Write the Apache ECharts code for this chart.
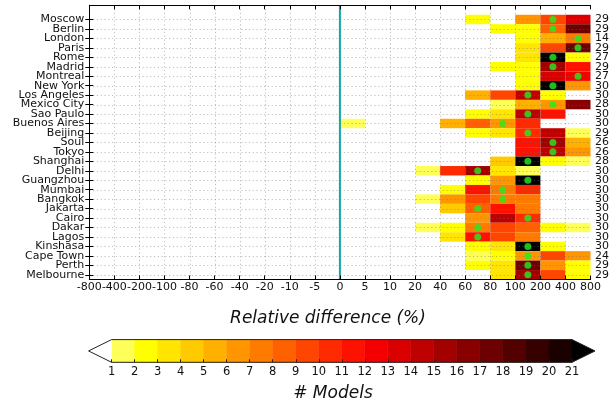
<!DOCTYPE html>
<html><head><meta charset="utf-8">
<script src="https://cdn.jsdelivr.net/npm/echarts@6/dist/echarts.min.js"></script>
<style>html,body{margin:0;padding:0;background:#fff}#c{width:612px;height:403px}</style>
</head><body><div id="c"></div>
<script>
const cities = ['Moscow','Berlin','London','Paris','Rome','Madrid','Montreal','New York','Los Angeles','Mexico City','Sao Paulo','Buenos Aires','Beijing','Soul','Tokyo','Shanghai','Delhi','Guangzhou','Mumbai','Bangkok','Jakarta','Cairo','Dakar','Lagos','Kinshasa','Cape Town','Perth','Melbourne'];
const xTickLabels = ['-800','-400','-200','-100','-80','-60','-40','-20','-10','-5','0','5','10','20','40','60','80','100','200','400','800'];
const modelTotals = [29,29,14,29,27,29,27,30,30,28,30,30,29,26,26,28,30,30,30,30,30,30,30,30,30,24,29,29];
// number of models per bin (20 bins between consecutive tick labels)
const cellCounts = [
 [0,0,0,0,0,0,0,0,0,0, 0,0,0,0,0,2,0,6,9,13],
 [0,0,0,0,0,0,0,0,0,0, 0,0,0,0,0,0,2,2,8,17],
 [0,0,0,0,0,0,0,0,0,0, 0,0,0,0,0,0,0,2,5,7],
 [0,0,0,0,0,0,0,0,0,0, 0,0,0,0,0,0,0,3,9,17],
 [0,0,0,0,0,0,0,0,0,0, 0,0,0,0,0,0,0,3,22,2],
 [0,0,0,0,0,0,0,0,0,0, 0,0,0,0,0,0,2,2,15,11],
 [0,0,0,0,0,0,0,0,0,0, 0,0,0,0,0,0,0,2,13,12],
 [0,0,0,0,0,0,0,0,0,0, 0,0,0,0,0,0,0,2,22,6],
 [0,0,0,0,0,0,0,0,0,0, 0,0,0,0,0,5,9,14,2,0],
 [0,0,0,0,0,0,0,0,0,0, 0,0,0,0,0,0,1,5,6,16],
 [0,0,0,0,0,0,0,0,0,0, 0,0,0,0,0,2,3,14,11,0],
 [0,0,0,0,0,0,0,0,0,0, 1,0,0,0,5,8,6,10,0,0],
 [0,0,0,0,0,0,0,0,0,0, 0,0,0,0,0,2,3,10,14,1],
 [0,0,0,0,0,0,0,0,0,0, 0,0,0,0,0,0,0,11,15,5],
 [0,0,0,0,0,0,0,0,0,0, 0,0,0,0,0,0,0,11,14,6],
 [0,0,0,0,0,0,0,0,0,0, 0,0,0,0,0,0,4,22,2,1],
 [0,0,0,0,0,0,0,0,0,0, 0,0,0,1,10,15,3,1,0,0],
 [0,0,0,0,0,0,0,0,0,0, 0,0,0,0,0,2,6,22,0,0],
 [0,0,0,0,0,0,0,0,0,0, 0,0,0,0,2,11,7,10,0,0],
 [0,0,0,0,0,0,0,0,0,0, 0,0,0,1,6,9,7,7,0,0],
 [0,0,0,0,0,0,0,0,0,0, 0,0,0,0,4,8,11,7,0,0],
 [0,0,0,0,0,0,0,0,0,0, 0,0,0,0,0,6,14,10,0,0],
 [0,0,0,0,0,0,0,0,0,0, 0,0,0,1,2,7,9,8,2,1],
 [0,0,0,0,0,0,0,0,0,0, 0,0,0,0,3,11,9,7,0,0],
 [0,0,0,0,0,0,0,0,0,0, 0,0,0,0,0,2,3,22,2,0],
 [0,0,0,0,0,0,0,0,0,0, 0,0,0,0,0,1,2,6,9,6],
 [0,0,0,0,0,0,0,0,0,0, 0,0,0,0,0,2,3,17,6,2],
 [0,0,0,0,0,0,0,0,0,0, 0,0,0,0,0,0,3,15,9,2]
];
// bin holding the ensemble median (green dot)
const medianBins = [18,18,19,19,18,18,19,18,17,18,17,16,17,18,18,17,15,17,16,16,15,17,15,15,17,17,17,17];
const cbLevels = [1,2,3,4,5,6,7,8,9,10,11,12,13,14,15,16,17,18,19,20,21];
const levelColors = ['#ffff5a','#ffff00','#ffe500','#ffcb00','#ffb000','#ff9600','#ff7b00','#ff6000','#ff4600','#ff2b00','#ff1100','#f50000','#da0000','#bf0000','#a30000','#880000','#6d0000','#520000','#370000','#1b0000'];

function colorOf(v){
  if (v < cbLevels[0]) return '#ffffff';
  if (v >= cbLevels[cbLevels.length-1]) return '#000000';
  for (let i = 0; i < cbLevels.length-1; i++) if (v >= cbLevels[i] && v < cbLevels[i+1]) return levelColors[i];
  return '#000';
}

const FONT = 'DejaVu Sans';
const cellData = [];
cellCounts.forEach((row, r) => row.forEach((c, b) => { if (c > 0) cellData.push([b, r+1, c]); }));
const dotData = medianBins.map((b, r) => [b + 0.5, r + 1]);
const zeroIdx = xTickLabels.indexOf('0');

const chart = echarts.init(document.getElementById('c'), null, {renderer:'canvas'});
const tickStyle = {show:true, inside:true, length:4, lineStyle:{color:'#000', width:1}};
const lineStyle = {show:true, lineStyle:{color:'#000', width:1}};
chart.setOption({
  animation:false,
  backgroundColor:'#fff',
  grid:[
    {left:89.3, right:16.5, top:5.3, bottom:123.5},
    {left:111.6, right:40, top:339.6, height:22.7}
  ],
  xAxis:[
    {gridIndex:0, type:'value', min:0, max:xTickLabels.length-1, interval:1, z:10,
     axisLine:lineStyle, axisTick:tickStyle, splitLine:{show:false},
     axisLabel:{margin:2, fontFamily:FONT, fontSize:11, color:'#111', showMinLabel:true, showMaxLabel:true, hideOverlap:false,
       formatter:v => xTickLabels[Math.round(v)]}},
    {gridIndex:0, type:'value', position:'top', min:0, max:xTickLabels.length-1, interval:1, z:10,
     axisLine:lineStyle, axisTick:tickStyle, splitLine:{show:false}, axisLabel:{show:false}},
    {gridIndex:1, type:'value', min:cbLevels[0], max:cbLevels[cbLevels.length-1], interval:1, z:10,
     axisLine:{show:false}, axisTick:{show:true, inside:true, length:3, lineStyle:{color:'#222', width:1}},
     splitLine:{show:false},
     axisLabel:{margin:4, fontFamily:FONT, fontSize:11.5, color:'#111', showMinLabel:true, showMaxLabel:true}}
  ],
  yAxis:[
    {gridIndex:0, type:'category', inverse:true, data:[''].concat(cities), z:10,
     axisLine:lineStyle,
     axisTick:Object.assign({}, tickStyle, {alignWithLabel:true, interval:(i)=> i>0}),
     axisLabel:{interval:0, margin:5, fontFamily:FONT, fontSize:11, color:'#111'}},
    {gridIndex:0, type:'category', inverse:true, position:'right', data:[''].concat(modelTotals.map(String)), z:10,
     axisLine:lineStyle,
     axisTick:Object.assign({}, tickStyle, {alignWithLabel:true, interval:(i)=> i>0}),
     axisLabel:{interval:0, margin:4.5, fontFamily:FONT, fontSize:11, color:'#111'}},
    {gridIndex:1, type:'value', min:0, max:1, show:false}
  ],
  series:[
    {type:'custom', xAxisIndex:0, yAxisIndex:0, z:2, data:cellData, encode:{x:0,y:1},
     renderItem:(p, api) => {
       const b = api.value(0), r = api.value(1);
       const a = api.coord([b, r]), c = api.coord([b+1, r]);
       const h = api.size([0,1])[1];
       return {type:'rect', shape:{x:a[0], y:a[1]-h/2, width:c[0]-a[0], height:h},
               style:{fill:colorOf(api.value(2)), stroke:null}};
     }},
    {type:'custom', xAxisIndex:0, yAxisIndex:0, z:3, silent:true, data:[[0,0]],
     renderItem:(p, api) => {
       const cs = p.coordSys; const kids = [];
       const ls = {stroke:'rgba(110,110,110,0.45)', lineWidth:1, lineDash:[1.2,2.6]};
       for (let i = 1; i < xTickLabels.length-1; i++) {
         const x = Math.round(api.coord([i, 0])[0]) + 0.5;
         kids.push({type:'line', shape:{x1:x, y1:cs.y, x2:x, y2:cs.y+cs.height}, style:ls});
       }
       for (let k = 1; k <= cities.length; k++) {
         const y = Math.round(api.coord([0, k])[1]) + 0.5;
         kids.push({type:'line', shape:{x1:cs.x, y1:y, x2:cs.x+cs.width, y2:y}, style:ls});
       }
       return {type:'group', children:kids};
     }},
    {type:'custom', xAxisIndex:0, yAxisIndex:0, z:4, silent:true, data:[[zeroIdx,0]],
     renderItem:(p, api) => {
       const cs = p.coordSys; const x = api.coord([api.value(0), 0])[0];
       return {type:'line', shape:{x1:x, y1:cs.y, x2:x, y2:cs.y+cs.height}, style:{stroke:'#12a8a8', lineWidth:2}};
     }},
    {type:'scatter', xAxisIndex:0, yAxisIndex:0, z:5, data:dotData, symbol:'circle', symbolSize:7,
     itemStyle:{color:'#22ee22'}},
    {type:'custom', xAxisIndex:2, yAxisIndex:2, z:2, data:cbLevels.slice(0,-1).map(v=>[v]), clip:false,
     renderItem:(p, api) => {
       const v = api.value(0);
       const a = api.coord([v, 0]), c = api.coord([v+1, 1]);
       return {type:'rect', shape:{x:a[0], y:c[1], width:c[0]-a[0], height:a[1]-c[1]},
               style:{fill:colorOf(v), stroke:colorOf(v), lineWidth:0.5}};
     }},
    {type:'custom', xAxisIndex:2, yAxisIndex:2, z:3, data:[[cbLevels[0], cbLevels[cbLevels.length-1]]], clip:false, silent:true,
     renderItem:(p, api) => {
       const lo = api.value(0), hi = api.value(1);
       const bl = api.coord([lo, 0]), tl = api.coord([lo, 1]), tip0 = api.coord([lo-1, 0.5]);
       const br = api.coord([hi, 0]), tr = api.coord([hi, 1]), tip1 = api.coord([hi+1, 0.5]);
       return {type:'group', children:[
         {type:'polygon', shape:{points:[tl, tip0, bl]}, style:{fill:colorOf(lo-1), stroke:null}},
         {type:'polygon', shape:{points:[tr, tip1, br]}, style:{fill:colorOf(hi), stroke:null}},
         {type:'polygon', shape:{points:[tl, tip0, bl, br, tip1, tr]}, style:{fill:null, stroke:'#222', lineWidth:1}}
       ]};
     }}
  ],
  graphic:[
    {type:'text', x:328, y:319, style:{text:'Relative difference (%)', font:'italic 17px "DejaVu Sans"', fill:'#111', textAlign:'center', textVerticalAlign:'middle'}},
    {type:'text', x:333, y:394, style:{text:'# Models', font:'italic 17px "DejaVu Sans"', fill:'#111', textAlign:'center', textVerticalAlign:'middle'}}
  ]
});
</script></body></html>
